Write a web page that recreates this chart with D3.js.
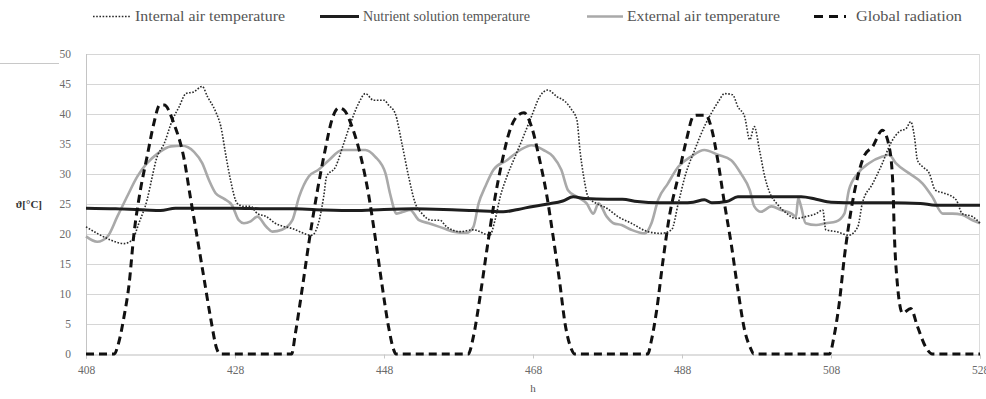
<!DOCTYPE html>
<html>
<head>
<meta charset="utf-8">
<script src="https://cdn.jsdelivr.net/npm/d3@7"></script>
<style>
  html, body { margin: 0; padding: 0; background: #fff; }
  svg { display: block; }
</style>
</head>
<body>
<svg id="chart" width="986" height="399"></svg>
<script>
// ---- data (hour, value) ----
const xTicks = [408, 428, 448, 468, 488, 508, 528];
const yTicks = [0, 5, 10, 15, 20, 25, 30, 35, 40, 45, 50];
const legendLabels = ["Internal air temperature", "Nutrient solution temperature", "External air temperature", "Global radiation"];

const internalAir = [[408,21.2],[409.5,20.1],[411.3,19],[413.1,18.4],[414.2,19],[415.1,21.8],[416.2,25.7],[416.9,29.6],[417.4,32.3],[418.5,35.1],[419.6,39],[420.5,41.2],[421.4,43.4],[422.5,43.7],[423.6,44.6],[424.3,42.9],[425.4,40.4],[426.1,37.9],[426.8,32.9],[427.4,29],[428.3,25.1],[429.2,24.6],[430.1,24.6],[431,23.4],[432.2,22.9],[433.4,21.8],[435.7,20.9],[438.3,19.8],[439.2,21.8],[439.9,26.2],[440.3,29.6],[441.5,31.2],[442.6,35.1],[443.5,38.4],[444.6,41.8],[445.5,43.4],[446.6,42.3],[448,42.3],[448.6,41.5],[449.5,40.1],[450.4,35.1],[451.3,29.6],[452.2,25.1],[453.1,23.4],[454.4,22.3],[455.5,22.3],[456.4,21.2],[458.2,20.4],[460,20.7],[462.2,19.8],[462.9,22.3],[463.6,26.2],[464.5,29.6],[465.6,32.9],[466.7,36.2],[467.8,39.6],[468.9,42.9],[470,44],[471.2,42.9],[472.3,42.1],[473.2,40.7],[473.9,39],[474.3,34],[474.8,29.6],[475.4,26.2],[476.5,25.1],[477.9,24.3],[479.4,22.9],[481.2,21.8],[483.4,20.4],[485.2,20.1],[486.6,20.7],[487.5,25.1],[488.4,29.6],[489.7,34],[491,37.9],[492.2,40.7],[493,42.3],[493.7,43.4],[494.8,43.2],[495.5,41.2],[496.4,39.6],[497.1,35.7],[497.7,37.9],[498.4,34],[499.1,29.6],[499.8,26.8],[500.7,25.1],[501.8,23.7],[503.3,22.6],[504.6,22.9],[506,23.4],[506.9,24],[507.3,20.7],[508.7,20.4],[510.4,19.8],[511.6,21.2],[512.2,25.1],[513.6,28.4],[514.9,31.8],[516,35.1],[517.2,37.1],[518.1,37.6],[518.7,38.7],[519.2,36.2],[519.6,32.3],[520.3,31.2],[521.2,30.1],[522,27.3],[523.2,26.8],[524.8,25.7],[525.6,23.4],[527,22.9],[528,21.8]];

const nutrientSolution = [[408,24.3],[412,24.2],[416,24.0],[418,23.9],[420,24.3],[424,24.3],[428,24.3],[432,24.2],[436,24.2],[440,24.0],[444,23.9],[448,24.1],[452,24.2],[456,24.1],[460,23.9],[464,23.7],[466,24.1],[468,24.6],[470,25.0],[472,25.5],[473.4,26.2],[475,25.9],[478,25.8],[480,25.8],[482,25.4],[485,25.2],[488,25.2],[489.5,25.3],[491,25.7],[492,25.2],[494,25.4],[495.5,26.2],[500,26.2],[504,26.2],[506,25.8],[508,25.3],[512,25.2],[516,25.2],[520,25.1],[522,24.8],[528,24.8]];

const externalAir = [[408,19.6],[409.5,18.7],[410.9,19.6],[412.2,22.9],[413.5,26.2],[414.9,29.6],[416.2,31.8],[417.6,33.4],[419.4,34.6],[420.9,34.7],[422.5,33.7],[423.6,31.8],[424.5,29],[425.4,26.8],[426.5,25.9],[427.6,24.8],[428.5,22.3],[429.2,21.8],[430.1,22.1],[431,22.9],[432.2,21.2],[433,20.4],[434.3,20.7],[435.7,22.3],[436.6,26.2],[437.9,29.6],[439.2,30.7],[440.6,32.3],[442.4,34],[444.1,34],[445.5,34],[446.8,32.9],[448.2,30.1],[448.8,26.8],[449.7,23.4],[450.6,23.7],[451.5,24],[452.7,22.3],[454,21.8],[456.1,20.9],[457.3,20.4],[459.1,20.2],[460,21.2],[460.7,25.1],[461.6,27.9],[462.7,30.7],[464.5,32.3],[466.3,34],[467.8,34.8],[469.4,34],[470.7,32.9],[471.8,30.7],[472.7,27.3],[473.9,26.2],[475.2,25.1],[476.1,23.4],[476.8,25.1],[477.9,22.9],[478.8,21.8],[479.9,21.5],[481.2,20.7],[483,20.1],[483.9,21.8],[484.8,25.7],[486.1,28.4],[487.5,31.2],[489.2,32.9],[491,34],[492.8,33.2],[494.6,32.3],[495.9,30.1],[497.1,27.3],[497.7,24.6],[498.6,23.7],[500,24.6],[501.3,24],[502.7,23.4],[503.3,22.9],[503.6,26],[504,24.5],[504.6,21.8],[506,21.5],[507.3,21.8],[508.7,22.1],[509.8,23.4],[510.4,27.3],[511.6,30.1],[513.1,31.8],[514.9,32.9],[515.8,33.2],[516.7,31.8],[518.5,30.1],[520.3,28.4],[521.6,26.2],[523,23.4],[524.3,23.4],[525.6,23.2],[527,22.3],[528,21.8]];

const globalRadiation = [[408,0],[411.8,0],[412.3,1.5],[413.1,6.2],[413.8,11.8],[414.4,19.6],[415.3,27.3],[416.2,32.9],[417.1,38.4],[417.9,41.5],[418.5,41.5],[419.8,38.4],[421.2,32.3],[422,26.2],[422.9,19.6],[423.8,12.9],[424.7,6.2],[425.6,0.7],[426,0],
[435.6,0],[436.1,3.4],[437,10.7],[437.9,18.4],[439,26.8],[440.1,34],[441,39],[441.9,41],[442.6,40.7],[443.7,37.9],[445,32.3],[445.9,26.8],[446.8,19.6],[447.7,11.8],[448.6,4.6],[449.3,0.7],[449.6,0],
[459.3,0],[460,2.9],[460.9,9.6],[461.8,17.3],[462.7,24.6],[463.8,31.8],[464.9,37.3],[466,39.8],[466.8,40.2],[467.8,37.9],[468.9,32.3],[469.8,26.8],[470.7,19.6],[471.6,11.8],[472.3,5.1],[473.2,0.7],[473.6,0],
[483.4,0],[483.9,2.3],[484.6,7.3],[485.4,15.1],[486.3,22.9],[487.5,29.6],[488.6,35.7],[489.5,39.6],[489.9,39.8],[491.2,39.8],[491.9,37.9],[492.8,32.3],[493.7,25.1],[494.6,18.4],[495.5,10.7],[496.4,4],[497.3,0.7],[497.6,0],
[507.8,0],[508.4,2.9],[509.1,8.4],[509.8,16.2],[510.7,24],[511.6,29.6],[512.4,32.9],[513.6,34.6],[514.9,37.3],[515.8,34.6],[516.3,28.4],[516.5,20.1],[516.9,11.8],[517.6,6.8],[518.7,7.6],[519.6,4.6],[520.7,1.2],[521.6,0],[528,0]];

// ---- drawing ----
const svg = d3.select("#chart");
const x = d3.scaleLinear().domain([408, 528]).range([86, 980]);
const y = d3.scaleLinear().domain([0, 50]).range([354, 54]);

// stray rule at top-left
svg.append("line").attr("x1", 0).attr("x2", 59).attr("y1", 63.5).attr("y2", 63.5)
  .attr("stroke", "#c8c8c8").attr("stroke-width", 1.2);

// gridlines
svg.append("g").selectAll("line").data(yTicks.filter(d => d > 0)).join("line")
  .attr("x1", x(408)).attr("x2", x(528))
  .attr("y1", d => Math.round(y(d)) + 0.5).attr("y2", d => Math.round(y(d)) + 0.5)
  .attr("stroke", "#d6d6d6").attr("stroke-width", 1);

// left & right frame lines
svg.append("line").attr("x1", x(408) + 0.5).attr("x2", x(408) + 0.5).attr("y1", y(50)).attr("y2", y(0))
  .attr("stroke", "#c4c4c4");
svg.append("line").attr("x1", x(528) - 0.5).attr("x2", x(528) - 0.5).attr("y1", y(50)).attr("y2", y(0))
  .attr("stroke", "#dcdcdc");

// x axis
const xAxis = d3.axisBottom(x).tickValues(xTicks).tickSize(4).tickPadding(7).tickFormat(d3.format("d"));
const gx = svg.append("g").attr("transform", `translate(0,${Math.round(y(0)) + 0.5})`).call(xAxis);
gx.select(".domain").attr("stroke", "#bdbdbd");
gx.selectAll(".tick line").attr("stroke", "#c8c8c8");
gx.selectAll(".tick text").attr("fill", "#6a6a6a").attr("font-family", "Liberation Serif, serif").attr("font-size", 11.5);

// y axis labels
const yAxis = d3.axisLeft(y).tickValues(yTicks).tickSize(0).tickPadding(15);
const gy = svg.append("g").attr("transform", `translate(${x(408)},0)`).call(yAxis);
gy.select(".domain").remove();
gy.selectAll(".tick text").attr("fill", "#6a6a6a").attr("font-family", "Liberation Serif, serif").attr("font-size", 11.5);

// axis titles
svg.append("text").attr("x", 42).attr("y", y(25) + 4).attr("text-anchor", "end")
  .attr("font-family", "Liberation Serif, serif").attr("font-size", 11).attr("font-weight", "bold").attr("fill", "#333")
  .text("ϑ[°C]");
svg.append("text").attr("x", x(468)).attr("y", 392).attr("text-anchor", "middle")
  .attr("font-family", "Liberation Serif, serif").attr("font-size", 11).attr("fill", "#555")
  .text("h");

// series
const line = d3.line().x(d => x(d[0])).y(d => y(d[1])).curve(d3.curveMonotoneX);
const styles = [
  { data: externalAir, stroke: "#a9a9a9", width: 2.6, dash: null },
  { data: nutrientSolution, stroke: "#1e1e1e", width: 3, dash: null },
  { data: internalAir, stroke: "#2a2a2a", width: 1.6, dash: "1.6,1.6" },
  { data: globalRadiation, stroke: "#111", width: 3, dash: "8,5" }
];
styles.forEach(s => {
  svg.append("path").datum(s.data).attr("d", line)
    .attr("fill", "none").attr("stroke", s.stroke).attr("stroke-width", s.width)
    .attr("stroke-dasharray", s.dash).attr("stroke-linejoin", "round");
});

// legend
const legendItems = [
  { label: legendLabels[0], x1: 93, x2: 131, tx: 135, len: 150, stroke: "#2a2a2a", width: 1.6, dash: "1.6,1.6" },
  { label: legendLabels[1], x1: 320, x2: 359, tx: 363, len: 167, stroke: "#1e1e1e", width: 3, dash: null },
  { label: legendLabels[2], x1: 587, x2: 623, tx: 627, len: 153, stroke: "#a9a9a9", width: 2.6, dash: null },
  { label: legendLabels[3], x1: 814, x2: 846, tx: 856, len: 106, stroke: "#111", width: 3, dash: "9,6" }
];
const lg = svg.append("g");
legendItems.forEach(it => {
  lg.append("line").attr("x1", it.x1).attr("x2", it.x2).attr("y1", 16.5).attr("y2", 16.5)
    .attr("stroke", it.stroke).attr("stroke-width", it.width).attr("stroke-dasharray", it.dash);
  lg.append("text").attr("x", it.tx).attr("y", 21)
    .attr("font-family", "Liberation Serif, serif").attr("font-size", 14).attr("fill", "#555")
    .attr("textLength", it.len).attr("lengthAdjust", "spacingAndGlyphs")
    .text(it.label);
});
</script>
</body>
</html>
